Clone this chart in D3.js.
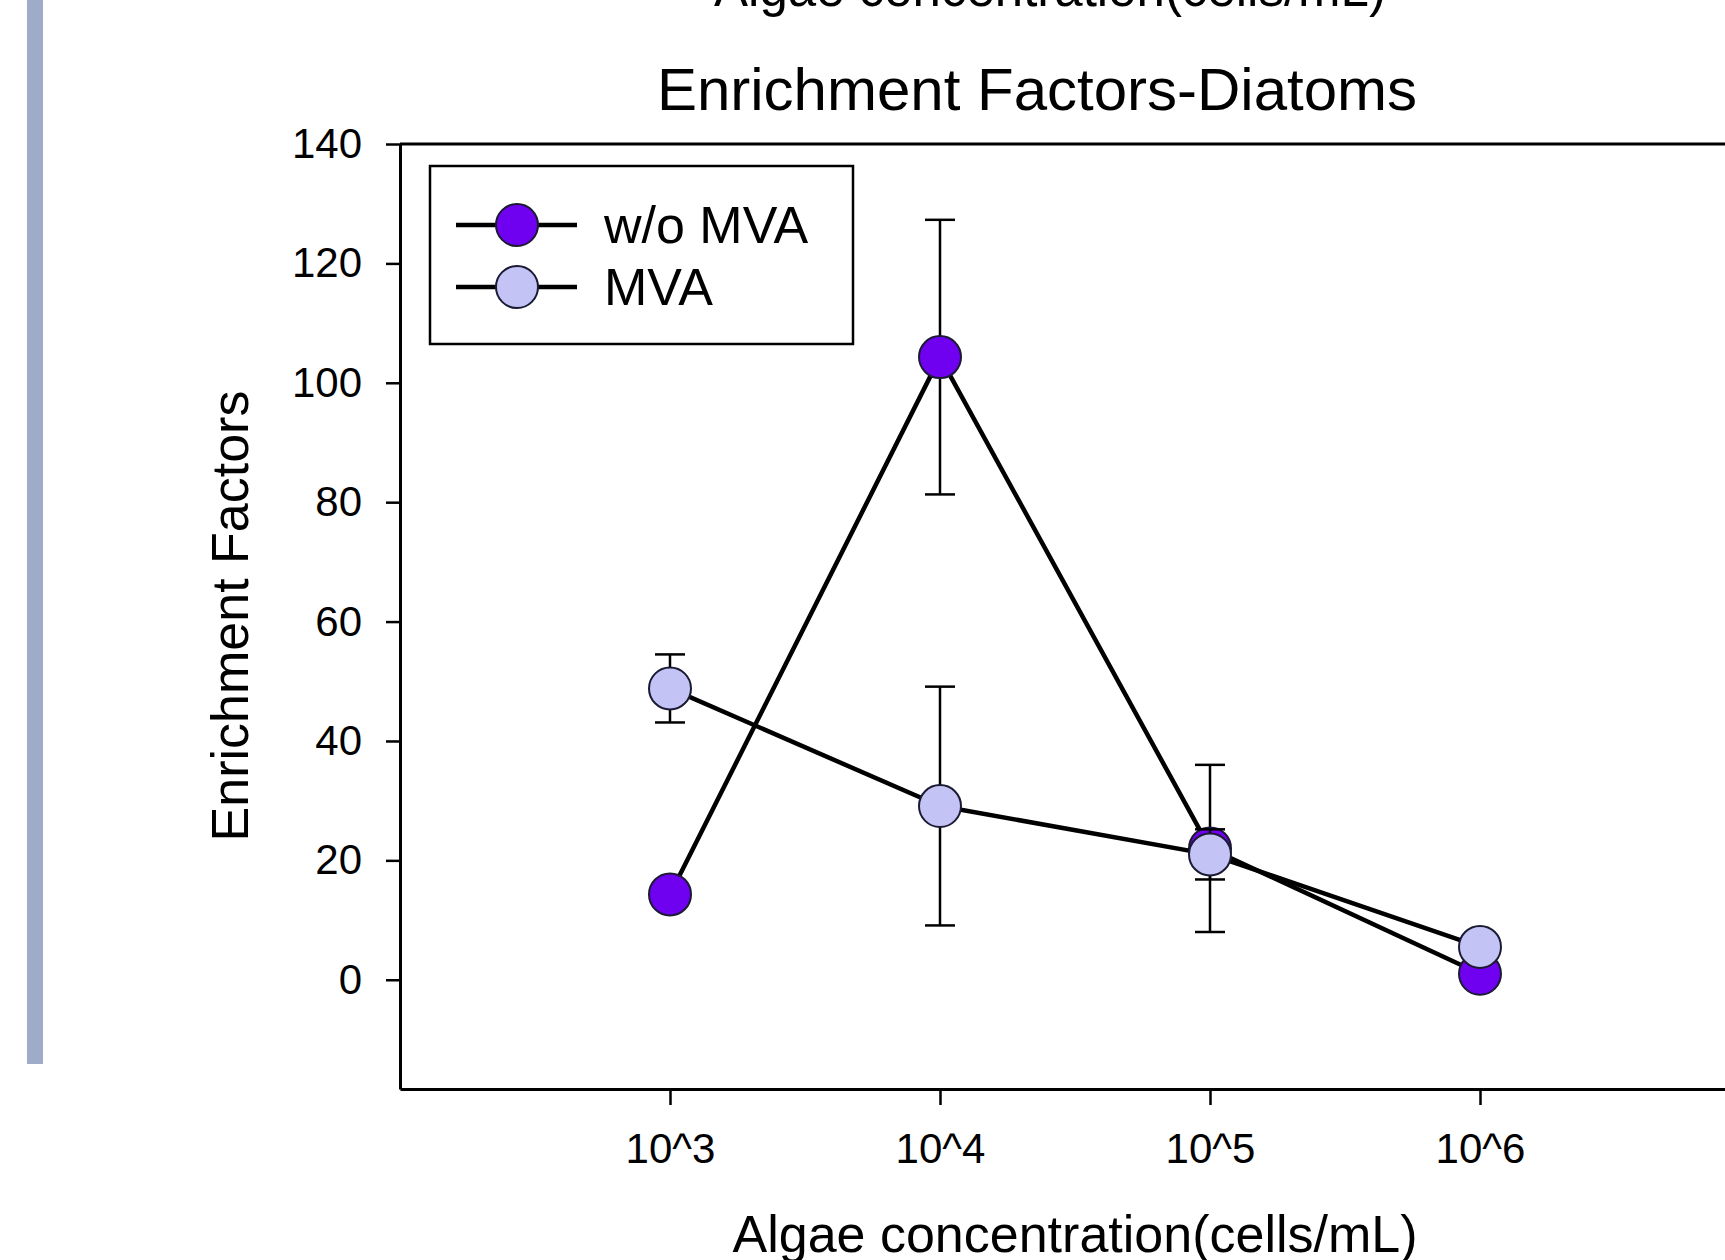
<!DOCTYPE html>
<html>
<head>
<meta charset="utf-8">
<script src="https://cdn.jsdelivr.net/npm/d3@7"></script>
<style>
  body { margin: 0; background: #fff; }
  text { font-family: "Liberation Sans", Arial, sans-serif; fill: #000; }
</style>
</head>
<body>
<script>
const width = 1725;
const height = 1260;

// data
const exponents = [3, 4, 5, 6];
const categories = ['10^3', '10^4', '10^5', '10^6'];
const seriesNames = ['w/o MVA', 'MVA'];
const withoutMva = [14.3, 104.3, 22.0, 1.0];
const withoutMvaErr = [null, 23, 14, null];
const mva = [48.8, 29.1, 21.0, 5.5];
const mvaErr = [5.7, 20, 4.2, null];
const yTicks = [0, 20, 40, 60, 80, 100, 120, 140];
const colors = ['#7000f0', '#c3c3f5'];

const series = [
  { name: seriesNames[0], values: withoutMva, errors: withoutMvaErr, color: colors[0] },
  { name: seriesNames[1], values: mva, errors: mvaErr, color: colors[1] },
];

const svg = d3.select('body')
  .append('svg')
    .attr('width', width)
    .attr('height', height)
    .attr('viewBox', [0, 0, width, height].join(' '));

svg.append('rect')
  .attr('width', width)
  .attr('height', height)
  .attr('fill', '#fff');

// slide decoration on the left
svg.append('rect')
  .attr('x', 27)
  .attr('y', 0)
  .attr('width', 16)
  .attr('height', 1064)
  .attr('fill', '#9eacc8');

// cut-off text from the chart above
svg.append('text')
  .attr('x', 1050)
  .attr('y', 6)
  .attr('text-anchor', 'middle')
  .attr('font-size', 51)
  .text('Algae concentration(cells/mL)');

const x = d3.scaleLinear()
  .domain([2, 7])
  .range([400, 1750]);

const y = d3.scaleLinear()
  .domain([-18.3, 140])
  .range([1089, 144]);

const yAxis = d3.axisLeft(y)
  .tickValues(yTicks)
  .tickSizeInner(14)
  .tickSizeOuter(0)
  .tickPadding(24);

const xAxis = d3.axisBottom(x)
  .tickValues(exponents)
  .tickFormat((d, i) => categories[i])
  .tickSizeInner(16)
  .tickSizeOuter(0)
  .tickPadding(28);

const gy = svg.append('g')
  .attr('transform', `translate(${x(2)}, 0)`)
  .call(yAxis);

const gx = svg.append('g')
  .attr('transform', `translate(0, ${y(-18.3)})`)
  .call(xAxis);

[gx, gy].forEach((g) => {
  g.select('.domain').attr('stroke', '#000').attr('stroke-width', 3);
  g.selectAll('.tick line').attr('stroke', '#000').attr('stroke-width', 2.5);
  g.selectAll('.tick text').attr('font-size', 42).attr('fill', '#000')
    .style('font-family', '"Liberation Sans", Arial, sans-serif');
});

// top frame line
svg.append('line')
  .attr('x1', x(2))
  .attr('x2', x(7))
  .attr('y1', y(140))
  .attr('y2', y(140))
  .attr('stroke', '#000')
  .attr('stroke-width', 3);

// titles
svg.append('text')
  .attr('x', 1037)
  .attr('y', 110)
  .attr('text-anchor', 'middle')
  .attr('font-size', 60)
  .text('Enrichment Factors-Diatoms');

svg.append('text')
  .attr('x', 1075)
  .attr('y', 1252)
  .attr('text-anchor', 'middle')
  .attr('font-size', 52)
  .text('Algae concentration(cells/mL)');

svg.append('text')
  .attr('transform', 'translate(248, 616) rotate(-90)')
  .attr('text-anchor', 'middle')
  .attr('font-size', 52)
  .text('Enrichment Factors');

const line = d3.line()
  .x((d, i) => x(exponents[i]))
  .y((d) => y(d));

const cap = 15;
const r = 21;

series.forEach((s) => {
  const g = svg.append('g');

  g.append('path')
    .datum(s.values)
    .attr('fill', 'none')
    .attr('stroke', '#000')
    .attr('stroke-width', 4.5)
    .attr('stroke-linejoin', 'round')
    .attr('d', line);

  const bars = s.values
    .map((v, i) => ({ v, e: s.errors[i], xp: exponents[i] }))
    .filter((d) => d.e != null);

  const eb = g.selectAll('.err')
    .data(bars)
    .enter()
      .append('g')
      .attr('stroke', '#000')
      .attr('stroke-width', 2.5);

  eb.append('line')
    .attr('x1', (d) => x(d.xp))
    .attr('x2', (d) => x(d.xp))
    .attr('y1', (d) => y(d.v + d.e))
    .attr('y2', (d) => y(d.v - d.e));

  eb.append('line')
    .attr('x1', (d) => x(d.xp) - cap)
    .attr('x2', (d) => x(d.xp) + cap)
    .attr('y1', (d) => y(d.v + d.e))
    .attr('y2', (d) => y(d.v + d.e));

  eb.append('line')
    .attr('x1', (d) => x(d.xp) - cap)
    .attr('x2', (d) => x(d.xp) + cap)
    .attr('y1', (d) => y(d.v - d.e))
    .attr('y2', (d) => y(d.v - d.e));

  g.selectAll('circle')
    .data(s.values)
    .enter()
      .append('circle')
      .attr('cx', (d, i) => x(exponents[i]))
      .attr('cy', (d) => y(d))
      .attr('r', r)
      .attr('fill', s.color)
      .attr('stroke', '#1a1a33')
      .attr('stroke-width', 2);
});

// legend
const legend = svg.append('g');

legend.append('rect')
  .attr('x', 430)
  .attr('y', 166)
  .attr('width', 423)
  .attr('height', 178)
  .attr('fill', '#fff')
  .attr('stroke', '#000')
  .attr('stroke-width', 2.5);

const rows = legend.selectAll('.row')
  .data(series)
  .enter()
    .append('g')
    .attr('transform', (d, i) => `translate(0, ${225 + i * 62})`);

rows.append('line')
  .attr('x1', 456)
  .attr('x2', 577)
  .attr('stroke', '#000')
  .attr('stroke-width', 4.5);

rows.append('circle')
  .attr('cx', 517)
  .attr('r', r)
  .attr('fill', (d) => d.color)
  .attr('stroke', '#1a1a33')
  .attr('stroke-width', 2);

rows.append('text')
  .attr('x', 604)
  .attr('y', 18)
  .attr('font-size', 52)
  .text((d) => d.name);
</script>
</body>
</html>
